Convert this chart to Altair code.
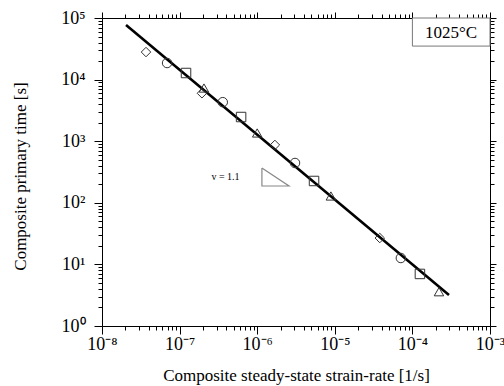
import altair as alt
import pandas as pd

# measured data points
rate = [3.69e-8, 6.9e-8, 1.21e-7, 2.06e-7, 1.94e-7, 3.6e-7, 6.2e-7, 1.0e-6,
        1.69e-6, 3.07e-6, 5.4e-6, 8.9e-6, 3.8e-5, 7.1e-5, 1.25e-4, 2.2e-4]
ptime = [2.8e4, 1.86e4, 1.28e4, 7.3e3, 6.0e3, 4.3e3, 2.47e3, 1.36e3,
         870, 443, 226, 129, 26.8, 12.7, 7.0, 3.6]
symbol = ["diamond", "circle", "square", "triangle"] * 4

# fitted line end points
fit_rate = [2.04e-8, 2.96e-4]
fit_time = [7.7e4, 3.18]

# slope triangle
tri_rate = [1.15e-6, 1.15e-6, 2.57e-6, 1.15e-6]
tri_time = [367, 187.5, 187.5, 367]
slope_label = "v = 1.1"
slope_rate = 3.9e-7
slope_time = 262

# temperature box
box_rate = [1e-4, 1e-3]
box_time = [3.5e4, 1e5]
temp_label = "1025°C"
temp_rate = 3.15e-4
temp_time = 5.7e4

x_decades = [1e-8, 1e-7, 1e-6, 1e-5, 1e-4, 1e-3]
y_decades = [1, 10, 100, 1e3, 1e4, 1e5]

x_ticks = []
for d in x_decades[:-1]:
    x_ticks += [d * k for k in range(1, 10)]
x_ticks.append(x_decades[-1])
y_ticks = []
for d in y_decades[:-1]:
    y_ticks += [d * k for k in range(1, 10)]
y_ticks.append(y_decades[-1])

FONT = "Liberation Serif"
is_dec = "abs(log(datum.value)/LN10 - round(log(datum.value)/LN10)) < 1e-6"
sup = "['⁰','¹','²','³','⁴','⁵','⁶','⁷','⁸','⁹']"
label_expr = (f"{is_dec} ? '10' + (round(log(datum.value)/LN10) < 0 ? '⁻' : '') + "
              f"{sup}[abs(round(log(datum.value)/LN10))] : ''")
tick_size = {"condition": {"test": is_dec, "value": 8}, "value": 4}
tick_size_in = {"condition": {"test": is_dec, "value": 6}, "value": 4}

xscale = alt.Scale(type="log", domain=[1e-8, 1e-3], nice=False)
yscale = alt.Scale(type="log", domain=[1, 1e5], nice=False)

common_axis = dict(domainColor="black", tickColor="black",
                   grid=False, labelFont=FONT, titleFont=FONT,
                   labelColor="black", titleColor="black", titleFontWeight="normal")

pts = pd.DataFrame({"rate": rate, "time": ptime, "sym": symbol})
fit = pd.DataFrame({"rate": fit_rate, "time": fit_time})
tri = pd.DataFrame({"rate": tri_rate, "time": tri_time, "o": list(range(len(tri_rate)))})
box = pd.DataFrame({"r1": [box_rate[0]], "r2": [box_rate[1]], "t1": [box_time[0]], "t2": [box_time[1]]})

xaxis = alt.Axis(values=x_ticks, labelExpr=label_expr, labelFontSize=18, tickSize=tick_size,
                 labelPadding=1, labelFlush=False,
                 title="Composite steady-state strain-rate [1/s]", titleFontSize=17,
                 titleY=49, titleBaseline="middle", labelOverlap=False, **common_axis)
yaxis = alt.Axis(values=y_ticks, labelExpr=label_expr, labelFontSize=18, tickSize=tick_size,
                 labelPadding=9, labelFlush=False, labelOverlap=False,
                 title="Composite primary time [s]", titleFontSize=17,
                 titleX=-82, titleY=158, titleBaseline="middle", titleAngle=-90, **common_axis)

NX = alt.X("rate:Q", scale=xscale, axis=None)
NY = alt.Y("time:Q", scale=yscale, axis=None)

base_box = alt.Chart(box).mark_rect(fill="white", stroke="#777", strokeWidth=1).encode(
    x=alt.X("r1:Q", scale=xscale, axis=xaxis),
    x2="r2:Q",
    y=alt.Y("t1:Q", scale=yscale, axis=yaxis),
    y2="t2:Q",
)

frame = alt.Chart(fit).mark_point(opacity=0).encode(
    x=alt.X("rate:Q", scale=xscale, axis=alt.Axis(orient="top", values=x_ticks, labels=False, title=None,
                                                  tickSize=tick_size_in, **common_axis)),
    y=alt.Y("time:Q", scale=yscale, axis=alt.Axis(orient="right", values=y_ticks, labels=False, title=None,
                                                  tickSize=tick_size_in, **common_axis)),
)

line = alt.Chart(fit).mark_line(color="black", strokeWidth=2.6).encode(x=NX, y=NY)

points = alt.Chart(pts).mark_point(filled=False, strokeWidth=1, color="#333", size=90, opacity=1).encode(
    x=NX, y=NY,
    shape=alt.Shape("sym:N", scale=alt.Scale(domain=["diamond", "circle", "square", "triangle"],
                                              range=["diamond", "circle", "square", "triangle-up"]),
                    legend=None),
)

triangle = alt.Chart(tri).mark_line(color="#888", strokeWidth=1.2).encode(x=NX, y=NY, order="o:Q")

slope_txt = alt.Chart(pd.DataFrame({"rate": [slope_rate], "time": [slope_time], "s": [slope_label]})).mark_text(
    font=FONT, fontSize=10, color="black").encode(x=NX, y=NY, text="s:N")

temp_txt = alt.Chart(pd.DataFrame({"rate": [temp_rate], "time": [temp_time], "s": [temp_label]})).mark_text(
    font=FONT, fontSize=17, color="black").encode(x=NX, y=NY, text="s:N")

chart = alt.layer(base_box, frame, line, points, triangle, slope_txt, temp_txt).resolve_axis(
    x="independent", y="independent"
).properties(
    width=388, height=308,
    autosize=alt.AutoSizeParams(type="none"),
    padding={"left": 102, "top": 18, "right": 14, "bottom": 60},
).configure_view(stroke=None).configure(background="white")

chart.save("out.html", embed_options={"renderer": "svg", "actions": False})
